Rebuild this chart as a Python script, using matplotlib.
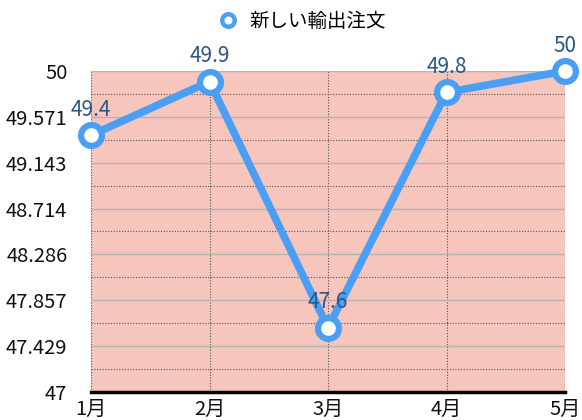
import matplotlib
matplotlib.use('Agg')
import matplotlib.pyplot as plt
from matplotlib.ticker import FixedLocator
import numpy as np

plt.rcParams['font.family'] = ['Noto Sans CJK JP', 'DejaVu Sans']

# data
months = ['1月', '2月', '3月', '4月', '5月']
orders = [49.4, 49.9, 47.6, 49.8, 50]
series_name = '新しい輸出注文'
y_min, y_max = 47, 50

line_col = '#4a9ff5'
label_col = '#2b5587'

fig = plt.figure(figsize=(5.82, 4.2), dpi=100)
ax = fig.add_axes([0.1564, 0.0667, 0.8144, 0.7643])
ax.set_facecolor('#f6c5bc')

x = np.arange(len(months))
ax.plot(x, orders, color=line_col, lw=5.5, marker='o', ms=15,
        mfc='white', mec=line_col, mew=4.5, clip_on=False, zorder=5,
        label=series_name)
for xi, v in zip(x, orders):
    ax.annotate(f'{v:g}', (xi, v), xytext=(0, 14), textcoords='offset points',
                ha='center', va='baseline', fontsize=15, color=label_col,
                zorder=6, annotation_clip=False)

ax.set_xlim(0, len(months) - 1)
ax.set_ylim(y_min, y_max)
major = np.linspace(y_min, y_max, 8)
ax.yaxis.set_major_locator(FixedLocator(major))
ax.yaxis.set_minor_locator(FixedLocator((major[:-1] + major[1:]) / 2))
ax.set_yticks(major)
ax.set_yticklabels([f'{v:.3f}'.rstrip('0').rstrip('.') for v in major])
ax.set_xticks(x)
ax.set_xticklabels(months)

ax.grid(axis='y', which='major', color='#b4b4b4', lw=1, ls='-')
ax.grid(axis='y', which='minor', color='#555555', lw=0.8, ls=(0, (1, 1.5)))
ax.grid(axis='x', which='major', color='#555555', lw=0.8, ls=(0, (1, 1.5)))
ax.set_axisbelow(True)

for s in ['left', 'right', 'top']:
    ax.spines[s].set_visible(False)
ax.spines['bottom'].set_color('black')
ax.spines['bottom'].set_linewidth(2.5)

ax.tick_params(axis='both', which='both', length=0, labelsize=14.5, colors='#111111')
ax.tick_params(axis='y', pad=17)
ax.tick_params(axis='x', pad=5)

leg = fig.legend(loc='upper center', bbox_to_anchor=(0.519, 1.015), frameon=False,
                 fontsize=14, handlelength=1.0, handletextpad=0.6)
for h in leg.legend_handles:
    h.set_linestyle('none')
    h.set_markersize(9)
    h.set_markeredgewidth(3.2)

fig.savefig('out.png', dpi=100)
